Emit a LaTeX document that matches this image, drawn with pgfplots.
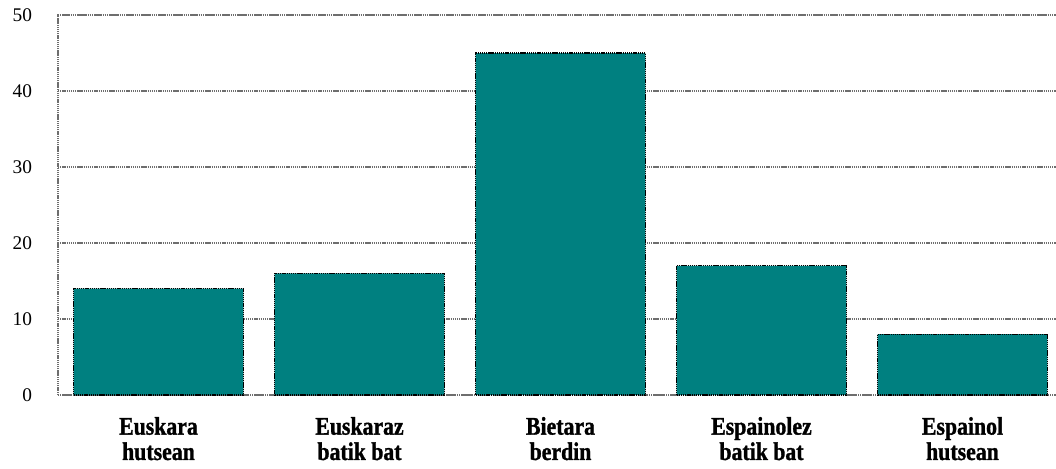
\documentclass[border=0pt]{standalone}
\usepackage{fontspec}
\setmainfont{Liberation Serif}
\newfontfamily\labelfont[FakeStretch=0.86,FakeBold=1.2,UprightFont={* Bold}]{Liberation Serif}
\usepackage{pgfplots}
\pgfplotsset{compat=1.18}
\definecolor{barteal}{RGB}{0,128,128}
\definecolor{gridgray}{RGB}{110,110,110}
\begin{document}
\begin{tikzpicture}
\begin{axis}[
  scale only axis,
  width=753.75pt, height=285pt,
  ymin=0, ymax=50,
  xmin=-0.5, xmax=4.5,
  ytick={0,10,20,30,40,50},
  xtick={0,1,2,3,4},
  xticklabels={{Euskara\\hutsean},{Euskaraz\\batik bat},{Bietara\\berdin},{Espainolez\\batik bat},{Espainol\\hutsean}},
  xticklabel style={align=center, font=\labelfont\fontsize{19}{19}\selectfont, yshift=-13pt},
  yticklabel style={font=\fontsize{14.5}{15}\selectfont, xshift=-16pt},
  /pgf/number format/assume math mode=true,
  major tick length=0pt,
  ymajorgrids,
  grid style={gridgray, dash pattern=on 1pt off 0.6pt, line width=0.9pt},
  axis line style={gridgray, dash pattern=on 1pt off 0.6pt, line width=0.9pt},
  ybar, bar width=0.845,
  clip=false,
]
\addplot[fill=barteal, draw=black, line width=0.9pt, dash pattern=on 1pt off 0.6pt] coordinates {(0,14) (1,16) (2,45) (3,17) (4,8)};
\end{axis}
\pgfresetboundingbox
\path ([xshift=-43.5pt,yshift=-54.75pt]current axis.south west) rectangle ([xshift=748.5pt,yshift=296.25pt]current axis.south west);
\end{tikzpicture}
\end{document}
